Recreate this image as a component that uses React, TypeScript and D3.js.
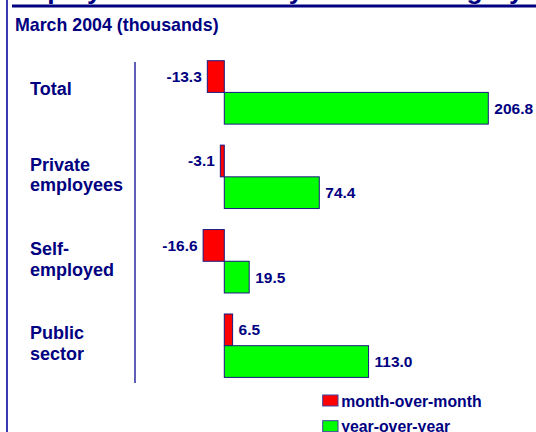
import React from "react";
import * as d3 from "d3";

const TITLE = "Employment Growth by Worker Category";
const SUBTITLE = "March 2004 (thousands)";
const categories = ["Total", "Private employees", "Self-employed", "Public sector"];
const categoryLines = [["Total"], ["Private", "employees"], ["Self-", "employed"], ["Public", "sector"]];
const seriesNames = ["month-over-month", "year-over-year"];
const monthOverMonth = [-13.3, -3.1, -16.6, 6.5];
const yearOverYear = [206.8, 74.4, 19.5, 113.0];
const seriesColors = ["#ff0000", "#00ff00"];

const W = 536;
const H = 432;
const NAVY = "#000080";
const FONT = "'Liberation Sans', Arial, Helvetica, sans-serif";

export default function App() {
  const x = d3.scaleLinear().domain([0, 206.8]).range([224.3, 488.3]);
  const y = d3
    .scaleBand<string>()
    .domain(categories)
    .range([60.7, 377.4])
    .paddingInner(0.249)
    .paddingOuter(0);
  const inner = d3
    .scaleBand<string>()
    .domain(seriesNames)
    .range([0, y.bandwidth()])
    .padding(0);
  const series = [monthOverMonth, yearOverYear];
  const fmt = (v: number) => v.toFixed(1);

  return (
    <svg
      width={W}
      height={H}
      style={{ position: "absolute", left: 0, top: 0, background: "#fff" }}
      fontFamily={FONT}
    >
      {/* cut-off title */}
      <text x={6} y={-1} fontSize={26.5} fontWeight="bold" fill={NAVY}>
        {TITLE}
      </text>
      <line x1={12} x2={W} y1={6} y2={6} stroke={NAVY} strokeWidth={3} />
      <line x1={7} x2={7} y1={0} y2={H} stroke="#3a3ab0" strokeWidth={2} />
      <text x={15} y={31} fontSize={17.8} fontWeight="bold" fill={NAVY}>
        {SUBTITLE}
      </text>

      {/* category axis line */}
      <line x1={135} x2={135} y1={62} y2={383} stroke="#2a2aa0" strokeWidth={1.5} />

      {categories.map((c, i) => {
        const lines = categoryLines[i];
        const cy = (y(c) as number) + y.bandwidth() / 2;
        const ys = lines.length === 1 ? [cy + 2.6] : [cy - 6.3, cy + 14.5];
        return (
          <text key={c} fontSize={18} fontWeight="bold" fill={NAVY}>
            {lines.map((l, j) => (
              <tspan key={j} x={30} y={ys[j]}>
                {l}
              </tspan>
            ))}
          </text>
        );
      })}

      {categories.map((c, i) =>
        series.map((vals, s) => {
          const v = vals[i];
          const by = (y(c) as number) + (inner(seriesNames[s]) as number);
          const bh = inner.bandwidth();
          const x0 = x(Math.min(0, v));
          const x1 = x(Math.max(0, v));
          const neg = v < 0;
          return (
            <g key={c + s}>
              <rect
                x={x0}
                y={by}
                width={x1 - x0}
                height={bh}
                fill={seriesColors[s]}
                stroke="#1a1a80"
                strokeWidth={1}
              />
              <text
                x={neg ? x0 - 5.5 : x1 + 6}
                y={by + bh / 2 + 5.5}
                textAnchor={neg ? "end" : "start"}
                fontSize={15.5}
                fontWeight="bold"
                fill={NAVY}
              >
                {fmt(v)}
              </text>
            </g>
          );
        })
      )}

      {/* legend */}
      {seriesNames.map((name, s) => (
        <g key={name} transform={`translate(322.7, ${395 + s * 25.7})`}>
          <rect width={15.3} height={11} fill={seriesColors[s]} stroke="#4040a0" strokeWidth={1} />
          <text x={18.5} y={11.5} fontSize={15.8} fontWeight="bold" fill={NAVY}>
            {name}
          </text>
        </g>
      ))}
    </svg>
  );
}
